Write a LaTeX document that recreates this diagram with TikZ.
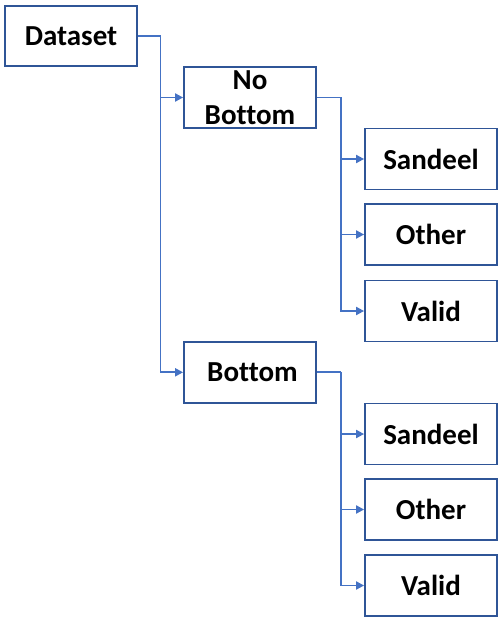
\documentclass[tikz,border=0pt]{standalone}
\usepackage{fontspec}
\setmainfont{Carlito}[Ligatures={NoCommon,NoContextual},RawFeature={-liga;-clig;-dlig}]
\usetikzlibrary{arrows.meta}
\definecolor{boxblue}{RGB}{47,85,151}
\definecolor{lineblue}{RGB}{68,114,196}
\begin{document}
\begin{tikzpicture}[x=1pt,y=-1pt,
  box/.style={draw=boxblue,line width=1.8pt,minimum width=132pt,minimum height=61pt,inner sep=0pt,
    font=\fontsize{29}{35}\selectfont\bfseries,align=center},
  conn/.style={draw=lineblue,line width=1.9pt,-{Triangle[length=8pt,width=8pt]}},
  link/.style={draw=lineblue,line width=1.9pt}]
\useasboundingbox (0,0) rectangle (502,623);
\node[box,minimum height=60pt] (ds) at (71,36) {Dataset};
\node[box] (nb) at (250,97.5) {No\\Bottom};
\node[box] (s1) at (431,159) {Sandeel};
\node[box] (o1) at (431,234.5) {Other};
\node[box] (v1) at (431,311) {Valid};
\node[box] (bt) at (250,372.3) {\hspace*{5pt}Bottom};
\node[box] (s2) at (431,434) {Sandeel};
\node[box] (o2) at (431,509.5) {Other};
\node[box] (v2) at (431,585.5) {Valid};
\coordinate (j0) at (160.5,36);
\coordinate (j1) at (340.7,97.5);
\coordinate (j2) at (340.7,372.3);
\draw[link] (ds.east) -- (j0);
\draw[conn] (j0) |- (nb.west);
\draw[conn] (j0) |- (bt.west);
\draw[link] (nb.east) -- (j1);
\draw[conn] (j1) |- (s1.west);
\draw[conn] (j1) |- (o1.west);
\draw[conn] (j1) |- (v1.west);
\draw[link] (bt.east) -- (j2);
\draw[conn] (j2) |- (s2.west);
\draw[conn] (j2) |- (o2.west);
\draw[conn] (j2) |- (v2.west);
\end{tikzpicture}
\end{document}
